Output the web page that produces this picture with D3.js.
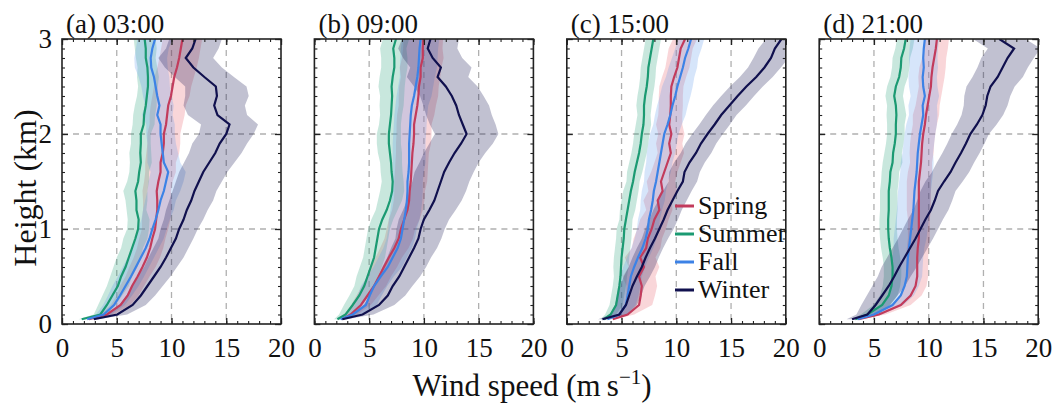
<!DOCTYPE html>
<html>
<head>
<meta charset="utf-8">
<script src="https://cdn.jsdelivr.net/npm/d3@7"></script>
<style>
  body { margin: 0; background: #fff; }
  text { font-family: "Liberation Serif", "DejaVu Serif", serif; fill: #111; }
</style>
</head>
<body>
<svg id="chart"></svg>
<script>
// heights (km) where profiles are sampled
const heights = [0.05, 0.1, 0.2, 0.3, 0.4, 0.5, 0.6, 0.7, 0.8, 0.9, 1.0, 1.1, 1.2, 1.3, 1.4, 1.5,
  1.6, 1.7, 1.8, 1.9, 2.0, 2.1, 2.2, 2.3, 2.4, 2.5, 2.6, 2.7, 2.8, 2.9, 3.0];

const seasons = ['Spring', 'Summer', 'Fall', 'Winter'];
const panelTitles = ['(a) 03:00', '(b) 09:00', '(c) 15:00', '(d) 21:00'];
const xTicks = [0, 5, 10, 15, 20];
const yTicks = [0, 1, 2, 3];

// (a) 03:00 mean wind speed and spread (m/s)
const spring03 = [2.45, 4.1, 5.35, 6.0, 6.4, 6.9, 7.35, 7.75, 8.05, 8.25, 8.5, 8.6, 8.7, 8.7, 8.65, 8.8, 9.0, 9.0, 9.2, 9.3, 9.3, 9.5, 9.6, 9.7, 9.95, 10.1, 10.25, 10.5, 10.7, 10.85, 11.0];
const summer03 = [1.8, 3.5, 4.1, 4.6, 5.1, 5.4, 5.8, 6.1, 6.4, 6.7, 6.95, 7.0, 6.8, 6.8, 6.7, 6.95, 7.05, 7.2, 7.15, 7.2, 7.2, 7.45, 7.5, 7.65, 7.75, 7.85, 7.85, 7.8, 7.65, 7.65, 7.55];
const fall03 = [2.3, 3.8, 4.75, 5.3, 5.8, 6.3, 6.75, 7.2, 7.65, 8.0, 8.25, 8.55, 8.8, 9.0, 9.3, 9.5, 9.7, 9.3, 9.2, 9.1, 9.0, 9.0, 8.7, 8.9, 8.7, 8.55, 8.4, 8.15, 8.1, 8.25, 8.5];
const winter03 = [2.9, 5.05, 6.45, 7.2, 7.8, 8.4, 9.0, 9.5, 9.95, 10.4, 10.7, 11.1, 11.4, 11.8, 12.1, 12.5, 12.9, 13.45, 14.0, 14.4, 15.0, 15.3, 14.2, 13.9, 14.15, 14.05, 13.0, 12.0, 11.3, 11.9, 12.2];
const spring03Sd = [0.3, 0.6, 0.9, 1.0, 1.1, 1.1, 1.2, 1.2, 1.2, 1.2, 1.2, 1.3, 1.3, 1.3, 1.3, 1.3, 1.4, 1.4, 1.5, 1.5, 1.5, 1.5, 1.6, 1.6, 1.7, 1.7, 1.8, 1.8, 1.8, 1.8, 1.8];
const summer03Sd = [0.3, 0.6, 0.8, 0.9, 1.0, 1.0, 1.1, 1.1, 1.0, 1.1, 1.0, 1.0, 0.9, 1.0, 1.1, 1.0, 0.9, 1.0, 1.0, 0.9, 0.9, 1.0, 1.0, 1.0, 0.9, 0.9, 1.0, 0.9, 0.9, 1.0, 1.0];
const fall03Sd = [0.3, 0.7, 1.0, 1.1, 1.2, 1.2, 1.2, 1.2, 1.2, 1.3, 1.3, 1.3, 1.4, 1.4, 1.5, 1.6, 1.6, 1.5, 1.4, 1.3, 1.3, 1.3, 1.4, 1.3, 1.3, 1.3, 1.4, 1.5, 1.5, 1.5, 1.6];
const winter03Sd = [0.4, 0.9, 1.2, 1.3, 1.4, 1.5, 1.5, 1.6, 1.6, 1.6, 1.7, 1.8, 1.9, 2.0, 2.0, 2.1, 2.2, 2.3, 2.4, 2.5, 2.5, 2.6, 2.7, 2.8, 2.9, 2.8, 2.7, 2.6, 2.5, 2.4, 2.4];

// (b) 09:00
const spring09 = [2.55, 3.3, 4.25, 4.85, 5.45, 5.9, 6.35, 6.8, 7.3, 7.7, 7.9, 8.2, 8.5, 8.65, 8.7, 8.8, 8.85, 8.9, 8.95, 9.05, 9.1, 9.1, 9.25, 9.4, 9.5, 9.55, 9.7, 9.7, 9.9, 9.9, 9.95];
const summer09 = [2.1, 2.85, 3.5, 4.1, 4.55, 4.85, 5.15, 5.45, 5.6, 5.75, 5.9, 6.2, 6.6, 6.9, 7.1, 7.15, 7.05, 7.0, 6.9, 6.8, 6.8, 6.9, 7.0, 7.05, 7.1, 7.05, 7.15, 7.3, 7.3, 7.2, 7.45];
const fall09 = [2.4, 3.5, 4.7, 5.05, 5.45, 6.05, 6.7, 7.15, 7.6, 7.9, 8.05, 8.2, 8.35, 8.45, 8.5, 8.5, 8.6, 8.65, 8.65, 8.65, 8.7, 8.75, 8.8, 8.9, 9.1, 9.25, 9.4, 9.5, 9.55, 9.6, 9.7];
const winter09 = [2.55, 4.4, 5.9, 6.7, 7.15, 7.75, 8.2, 8.65, 9.1, 9.5, 9.7, 10.0, 10.5, 10.95, 11.25, 11.55, 11.85, 12.3, 12.8, 13.4, 13.9, 13.55, 13.2, 12.95, 12.55, 12.0, 11.25, 11.55, 10.8, 10.35, 10.6];
const spring09Sd = [0.3, 0.6, 0.9, 1.0, 1.1, 1.1, 1.2, 1.2, 1.3, 1.3, 1.3, 1.4, 1.4, 1.4, 1.4, 1.5, 1.5, 1.5, 1.5, 1.6, 1.6, 1.6, 1.7, 1.7, 1.8, 1.8, 1.8, 1.9, 1.9, 1.8, 1.8];
const summer09Sd = [0.3, 0.6, 0.8, 0.9, 0.9, 1.0, 1.0, 1.0, 1.0, 1.0, 1.0, 1.0, 1.0, 1.1, 1.1, 1.0, 1.0, 1.0, 1.1, 1.1, 1.1, 1.0, 1.0, 1.1, 1.1, 1.2, 1.2, 1.2, 1.2, 1.2, 1.2];
const fall09Sd = [0.3, 0.7, 1.0, 1.1, 1.2, 1.2, 1.3, 1.3, 1.3, 1.3, 1.3, 1.4, 1.4, 1.4, 1.4, 1.4, 1.4, 1.5, 1.5, 1.5, 1.5, 1.5, 1.5, 1.5, 1.6, 1.6, 1.6, 1.7, 1.7, 1.7, 1.7];
const winter09Sd = [0.4, 1.0, 1.4, 1.6, 1.8, 1.9, 2.0, 2.0, 2.1, 2.1, 2.2, 2.3, 2.4, 2.5, 2.6, 2.6, 2.7, 2.7, 2.8, 2.9, 2.9, 3.0, 3.0, 3.0, 2.9, 2.9, 2.8, 2.8, 2.7, 2.7, 2.6];

// (c) 15:00
const spring15 = [4.2, 5.55, 6.6, 6.75, 6.85, 6.6, 7.05, 6.7, 7.25, 7.4, 7.75, 8.0, 8.45, 8.3, 8.75, 8.6, 8.9, 9.2, 9.5, 9.35, 9.55, 9.35, 9.45, 9.5, 9.5, 9.55, 9.8, 10.1, 10.25, 10.4, 10.8];
const summer15 = [3.4, 4.0, 4.5, 4.65, 4.8, 4.9, 4.95, 5.0, 5.1, 5.2, 5.25, 5.4, 5.55, 5.7, 5.85, 6.05, 6.2, 6.4, 6.6, 6.75, 6.85, 7.0, 7.05, 7.05, 7.15, 7.3, 7.4, 7.45, 7.6, 7.75, 7.9];
const fall15 = [3.7, 4.8, 5.4, 5.55, 5.7, 5.85, 6.15, 6.5, 6.9, 7.2, 7.4, 7.5, 7.7, 7.85, 7.95, 8.15, 8.3, 8.45, 8.6, 8.75, 8.9, 9.2, 9.45, 9.65, 9.9, 10.1, 10.35, 10.6, 10.8, 11.1, 11.35];
const winter15 = [3.25, 4.8, 5.4, 5.7, 6.0, 6.4, 6.85, 7.2, 7.6, 8.05, 8.45, 8.85, 9.2, 9.65, 10.1, 10.6, 10.75, 11.2, 11.8, 12.25, 12.85, 13.5, 14.1, 14.85, 15.6, 16.4, 17.3, 18.05, 18.65, 19.0, 19.6];
const spring15Sd = [0.3, 0.6, 1.2, 1.3, 1.4, 1.5, 1.4, 1.4, 1.3, 1.3, 1.3, 1.3, 1.2, 1.3, 1.3, 1.3, 1.2, 1.2, 1.2, 1.2, 1.2, 1.2, 1.1, 1.1, 1.1, 1.1, 1.1, 1.1, 1.1, 1.1, 1.1];
const summer15Sd = [0.3, 0.5, 0.6, 0.6, 0.6, 0.6, 0.7, 0.7, 0.7, 0.7, 0.7, 0.6, 0.7, 0.7, 0.7, 0.6, 0.7, 0.7, 0.7, 0.7, 0.7, 0.7, 0.6, 0.7, 0.7, 0.7, 0.7, 0.7, 0.7, 0.7, 0.7];
const fall15Sd = [0.3, 0.7, 0.9, 1.0, 1.0, 1.0, 1.0, 1.0, 1.0, 1.0, 1.0, 1.0, 1.0, 1.1, 1.1, 1.1, 1.2, 1.2, 1.3, 1.3, 1.3, 1.3, 1.4, 1.4, 1.4, 1.4, 1.3, 1.3, 1.2, 1.2, 1.2];
const winter15Sd = [0.4, 0.8, 1.0, 1.1, 1.1, 1.2, 1.2, 1.2, 1.2, 1.2, 1.3, 1.3, 1.3, 1.3, 1.3, 1.3, 1.4, 1.4, 1.4, 1.4, 1.4, 1.4, 1.4, 1.5, 1.5, 1.5, 1.5, 1.5, 1.6, 1.5, 1.4];

// (d) 21:00
const spring21 = [3.6, 5.45, 7.45, 8.35, 8.8, 8.95, 8.95, 8.95, 9.0, 9.1, 9.1, 9.1, 9.1, 9.1, 9.1, 9.1, 9.2, 9.3, 9.35, 9.4, 9.5, 9.65, 9.75, 9.9, 10.05, 10.2, 10.25, 10.35, 10.5, 10.65, 10.75];
const summer21 = [3.3, 4.4, 5.75, 6.35, 6.6, 6.7, 6.7, 6.6, 6.45, 6.35, 6.3, 6.3, 6.35, 6.35, 6.35, 6.45, 6.5, 6.7, 6.75, 6.9, 7.0, 7.0, 7.05, 7.0, 6.85, 7.0, 7.3, 7.45, 7.5, 7.75, 7.9];
const fall21 = [3.5, 5.0, 6.7, 7.45, 7.8, 8.0, 8.05, 8.1, 8.2, 8.3, 8.4, 8.5, 8.6, 8.65, 8.7, 8.8, 8.9, 8.95, 9.0, 9.1, 9.2, 9.35, 9.5, 9.45, 9.65, 9.5, 9.45, 9.55, 9.5, 9.55, 9.65];
const winter21 = [3.0, 4.4, 5.15, 5.75, 6.35, 6.85, 7.3, 7.8, 8.3, 8.8, 9.25, 9.7, 10.2, 10.55, 10.85, 11.4, 12.0, 12.45, 12.95, 13.4, 13.8, 14.4, 14.9, 15.2, 15.35, 15.65, 16.3, 16.75, 17.2, 17.8, 16.45];
const spring21Sd = [0.3, 0.6, 0.9, 1.0, 1.0, 1.0, 1.0, 1.0, 1.0, 1.0, 1.0, 1.0, 1.1, 1.1, 1.1, 1.1, 1.1, 1.0, 1.1, 1.1, 1.1, 1.1, 1.2, 1.1, 1.1, 1.1, 1.2, 1.2, 1.1, 1.1, 1.1];
const summer21Sd = [0.3, 0.6, 0.8, 0.8, 0.8, 0.8, 0.8, 0.8, 0.8, 0.8, 0.8, 0.8, 0.8, 0.8, 0.8, 0.8, 0.8, 0.9, 0.8, 0.8, 0.8, 0.8, 0.9, 0.8, 0.8, 0.8, 0.8, 0.8, 0.8, 0.8, 0.8];
const fall21Sd = [0.3, 0.7, 1.0, 1.2, 1.3, 1.4, 1.4, 1.4, 1.4, 1.5, 1.5, 1.5, 1.5, 1.5, 1.5, 1.5, 1.5, 1.5, 1.4, 1.4, 1.4, 1.4, 1.3, 1.3, 1.3, 1.3, 1.3, 1.3, 1.3, 1.3, 1.3];
const winter21Sd = [0.5, 1.0, 1.3, 1.4, 1.5, 1.5, 1.6, 1.6, 1.6, 1.6, 1.6, 1.6, 1.6, 1.6, 1.6, 1.7, 1.7, 1.7, 1.7, 1.7, 1.7, 1.8, 1.9, 2.0, 2.1, 2.2, 2.3, 2.3, 2.4, 2.4, 2.4];

const panels = [
  [spring03, summer03, fall03, winter03, spring03Sd, summer03Sd, fall03Sd, winter03Sd],
  [spring09, summer09, fall09, winter09, spring09Sd, summer09Sd, fall09Sd, winter09Sd],
  [spring15, summer15, fall15, winter15, spring15Sd, summer15Sd, fall15Sd, winter15Sd],
  [spring21, summer21, fall21, winter21, spring21Sd, summer21Sd, fall21Sd, winter21Sd]
];

const lineColors = ['#c23b5c', '#1b9a72', '#3c82e6', '#10104e'];
const fillColors = ['#ea6a78', '#1b9a72', '#5a96ea', '#10104e'];
const fillAlpha = [0.28, 0.24, 0.25, 0.26];

// setting up svg
const W = 1055, H = 403;
const svg = d3.select('#chart').attr('width', W).attr('height', H);

const plotTop = 39, plotH = 285, plotW = 219, step = 252.4, left0 = 62;
const yScale = d3.scaleLinear().domain([0, 3]).range([plotTop + plotH, plotTop]);

panels.forEach((p, i) => {
  const x0 = left0 + i * step;
  const xScale = d3.scaleLinear().domain([0, 20]).range([x0, x0 + plotW]);
  const g = svg.append('g');

  // dashed grid
  g.selectAll('.gx').data([5, 10, 15]).join('line')
    .attr('x1', d => xScale(d)).attr('x2', d => xScale(d))
    .attr('y1', plotTop).attr('y2', plotTop + plotH)
    .attr('stroke', '#b0b0b0').attr('stroke-width', 1.3).attr('stroke-dasharray', '6,5');
  g.selectAll('.gy').data([1, 2]).join('line')
    .attr('y1', d => yScale(d)).attr('y2', d => yScale(d))
    .attr('x1', x0).attr('x2', x0 + plotW)
    .attr('stroke', '#b0b0b0').attr('stroke-width', 1.3).attr('stroke-dasharray', '6,5');

  const clipId = 'clip' + i;
  svg.append('clipPath').attr('id', clipId).append('rect')
    .attr('x', x0).attr('y', plotTop).attr('width', plotW).attr('height', plotH);
  const marks = g.append('g').attr('clip-path', `url(#${clipId})`);

  seasons.forEach((s, k) => {
    const mean = p[k], sd = p[k + 4];
    const area = d3.area()
      .y((d, j) => yScale(heights[j]))
      .x0((d, j) => xScale(d - sd[j]))
      .x1((d, j) => xScale(d + sd[j]));
    marks.append('path')
      .attr('d', area(mean))
      .attr('fill', fillColors[k])
      .attr('fill-opacity', fillAlpha[k]);
  });
  seasons.forEach((s, k) => {
    const line = d3.line()
      .x(d => xScale(d))
      .y((d, j) => yScale(heights[j]));
    marks.append('path')
      .attr('d', line(p[k]))
      .attr('fill', 'none')
      .attr('stroke', lineColors[k])
      .attr('stroke-width', 2.2);
  });

  // axes with inward ticks on all four sides
  const xMinor = d3.range(0, 21, 1);
  const yMinor = d3.range(0, 3.01, 0.1);
  const axB = d3.axisBottom(xScale).tickValues(xMinor).tickSize(-3).tickFormat('');
  const axT = d3.axisTop(xScale).tickValues(xMinor).tickSize(-3).tickFormat('');
  const axL = d3.axisLeft(yScale).tickValues(yMinor).tickSize(-3).tickFormat('');
  const axR = d3.axisRight(yScale).tickValues(yMinor).tickSize(-3).tickFormat('');
  [[axB, `translate(0,${plotTop + plotH})`], [axT, `translate(0,${plotTop})`],
   [axL, `translate(${x0},0)`], [axR, `translate(${x0 + plotW},0)`]].forEach(([ax, tr]) => {
    const a = g.append('g').attr('transform', tr).call(ax);
    a.select('.domain').remove();
    a.selectAll('line').attr('stroke', '#222').attr('stroke-width', 1.1);
  });
  const majB = g.append('g').attr('transform', `translate(0,${plotTop + plotH})`)
    .call(d3.axisBottom(xScale).tickValues(xTicks).tickSize(-6).tickPadding(14));
  majB.select('.domain').remove();
  majB.selectAll('line').attr('stroke', '#222').attr('stroke-width', 1.3);
  majB.selectAll('text').attr('font-size', 27).attr('font-family', 'Liberation Serif').attr('fill', '#111');
  const majT = g.append('g').attr('transform', `translate(0,${plotTop})`)
    .call(d3.axisTop(xScale).tickValues(xTicks).tickSize(-6).tickFormat(''));
  majT.select('.domain').remove();
  majT.selectAll('line').attr('stroke', '#222').attr('stroke-width', 1.3);
  const majL = g.append('g').attr('transform', `translate(${x0},0)`)
    .call(d3.axisLeft(yScale).tickValues(yTicks).tickSize(-6).tickPadding(10)
      .tickFormat(d => (i === 0 ? d : '')));
  majL.select('.domain').remove();
  majL.selectAll('line').attr('stroke', '#222').attr('stroke-width', 1.3);
  majL.selectAll('text').attr('font-size', 27).attr('font-family', 'Liberation Serif').attr('fill', '#111');
  const majR = g.append('g').attr('transform', `translate(${x0 + plotW},0)`)
    .call(d3.axisRight(yScale).tickValues(yTicks).tickSize(-6).tickFormat(''));
  majR.select('.domain').remove();
  majR.selectAll('line').attr('stroke', '#222').attr('stroke-width', 1.3);

  // frame
  g.append('rect').attr('x', x0).attr('y', plotTop).attr('width', plotW).attr('height', plotH)
    .attr('fill', 'none').attr('stroke', '#222').attr('stroke-width', 1.6);

  // panel title
  g.append('text').attr('x', x0 + 4).attr('y', 33).attr('font-size', 27).text(panelTitles[i]);

  // legend in panel (c)
  if (i === 2) {
    const lg = g.append('g');
    seasons.forEach((s, k) => {
      const yy = 206 + k * 28;
      lg.append('line').attr('x1', 675).attr('x2', 694).attr('y1', yy).attr('y2', yy)
        .attr('stroke', lineColors[k]).attr('stroke-width', 3);
      lg.append('text').attr('x', 698).attr('y', yy + 8).attr('font-size', 26).text(s);
    });
  }
});

// axis titles
svg.append('text')
  .attr('transform', 'translate(36,188) rotate(-90)')
  .attr('text-anchor', 'middle').attr('font-size', 32)
  .text('Height (km)');
const xl = svg.append('text').attr('x', 532).attr('y', 396)
  .attr('text-anchor', 'middle').attr('font-size', 31);
xl.append('tspan').text('Wind speed (m\u2009s');
xl.append('tspan').attr('font-size', 21).attr('dy', -12).text('\u22121');
xl.append('tspan').attr('dy', 12).text(')');
</script>
</body>
</html>
